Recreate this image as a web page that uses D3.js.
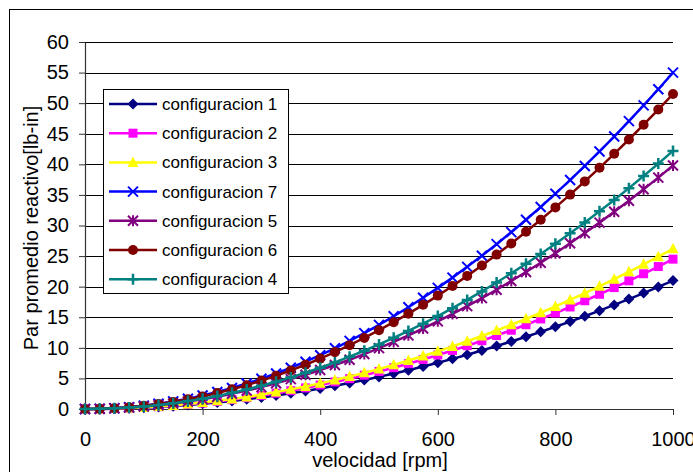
<!DOCTYPE html>
<html>
<head>
<meta charset="utf-8">
<script src="https://cdn.jsdelivr.net/npm/d3@7"></script>
<style>
  body { margin: 0; background: #fff; }
  svg { display: block; font-family: Arial, "Liberation Sans", sans-serif; }
</style>
</head>
<body>
<svg id="chart" width="693" height="472"></svg>
<script>
// speed values, every 25 rpm
const rpm = [0, 25, 50, 75, 100, 125, 150, 175, 200, 225, 250, 275, 300, 325, 350, 375, 400,
  425, 450, 475, 500, 525, 550, 575, 600, 625, 650, 675, 700, 725, 750, 775, 800,
  825, 850, 875, 900, 925, 950, 975, 1000];

// torque per configuration [lb-in]
const config1 = [0, 0.01, 0.05, 0.12, 0.21, 0.33, 0.47, 0.64, 0.84, 1.06, 1.31, 1.59, 1.89, 2.22, 2.57, 2.95, 3.36,
  3.79, 4.25, 4.74, 5.25, 5.79, 6.35, 6.94, 7.56, 8.2, 8.87, 9.57, 10.29, 11.04, 11.81, 12.61, 13.44,
  14.29, 15.17, 16.08, 17.01, 17.97, 18.95, 19.96, 21.0];
const config2 = [0, 0.02, 0.06, 0.14, 0.25, 0.38, 0.55, 0.75, 0.98, 1.24, 1.53, 1.85, 2.21, 2.59, 3.0, 3.45, 3.92,
  4.43, 4.96, 5.53, 6.13, 6.75, 7.41, 8.1, 8.82, 9.57, 10.35, 11.16, 12.01, 12.88, 13.78, 14.72, 15.68,
  16.68, 17.7, 18.76, 19.85, 20.96, 22.11, 23.29, 24.5];
const config3 = [0, 0.02, 0.07, 0.15, 0.26, 0.41, 0.59, 0.8, 1.05, 1.33, 1.64, 1.98, 2.36, 2.77, 3.21, 3.68, 4.19,
  4.73, 5.31, 5.91, 6.55, 7.22, 7.93, 8.66, 9.43, 10.23, 11.07, 11.94, 12.84, 13.77, 14.74, 15.74, 16.77,
  17.83, 18.93, 20.06, 21.22, 22.42, 23.65, 24.91, 26.2];
const config7 = [0, 0.03, 0.14, 0.31, 0.55, 0.86, 1.24, 1.68, 2.2, 2.78, 3.44, 4.16, 4.95, 5.81, 6.74, 7.73, 8.8,
  9.93, 11.14, 12.41, 13.75, 15.16, 16.64, 18.18, 19.8, 21.48, 23.24, 25.06, 26.95, 28.91, 30.94, 33.03, 35.2,
  37.43, 39.74, 42.11, 44.55, 47.06, 49.64, 52.28, 55.0];
const config5 = [0, 0.02, 0.1, 0.22, 0.4, 0.62, 0.9, 1.22, 1.59, 2.01, 2.49, 3.01, 3.58, 4.2, 4.88, 5.6, 6.37,
  7.19, 8.06, 8.98, 9.95, 10.97, 12.04, 13.16, 14.33, 15.55, 16.82, 18.13, 19.5, 20.92, 22.39, 23.9, 25.47,
  27.09, 28.76, 30.47, 32.24, 34.05, 35.92, 37.83, 39.8];
const config6 = [0, 0.03, 0.13, 0.29, 0.52, 0.8, 1.16, 1.58, 2.06, 2.61, 3.22, 3.89, 4.64, 5.44, 6.31, 7.24, 8.24,
  9.3, 10.43, 11.62, 12.88, 14.19, 15.58, 17.03, 18.54, 20.12, 21.76, 23.46, 25.24, 27.07, 28.97, 30.93, 32.96,
  35.05, 37.21, 39.43, 41.72, 44.06, 46.48, 48.96, 51.5];
const config4 = [0, 0.03, 0.11, 0.24, 0.42, 0.66, 0.95, 1.29, 1.69, 2.14, 2.64, 3.19, 3.8, 4.46, 5.17, 5.93, 6.75,
  7.62, 8.55, 9.52, 10.55, 11.63, 12.77, 13.95, 15.19, 16.48, 17.83, 19.23, 20.68, 22.18, 23.74, 25.35, 27.01,
  28.72, 30.49, 32.31, 34.18, 36.11, 38.09, 40.12, 42.2];

const seriesNames = ['configuracion 1', 'configuracion 2', 'configuracion 3', 'configuracion 7',
  'configuracion 5', 'configuracion 6', 'configuracion 4'];
const seriesValues = [config1, config2, config3, config7, config5, config6, config4];
const seriesColors = ['#000080', '#FF00FF', '#FFFF00', '#0000FF', '#800080', '#800000', '#008080'];
const seriesMarkers = ['diamond', 'square', 'triangle', 'x', 'asterisk', 'circle', 'plus'];

const xTicks = [0, 200, 400, 600, 800, 1000];
const yTicks = [0, 5, 10, 15, 20, 25, 30, 35, 40, 45, 50, 55, 60];

const svg = d3.select('#chart');

// outer chart border (runs off the right and bottom edges)
svg.append('rect')
  .attr('x', 9.5).attr('y', 9.5)
  .attr('width', 720).attr('height', 520)
  .attr('fill', 'none').attr('stroke', '#000');

const x = d3.scaleLinear().domain([0, 1000]).range([85, 673]);
const y = d3.scaleLinear().domain([0, 60]).range([409, 42]);

// gridlines
svg.append('g')
  .selectAll('line')
  .data(yTicks.slice(1))
  .enter().append('line')
  .attr('x1', x(0)).attr('x2', x(1000))
  .attr('y1', d => Math.round(y(d)) + 0.5)
  .attr('y2', d => Math.round(y(d)) + 0.5)
  .attr('stroke', '#000').attr('stroke-width', 1);

// axes
const yAxis = svg.append('g')
  .attr('transform', `translate(${x(0)},0)`)
  .call(d3.axisLeft(y).tickValues(yTicks).tickFormat(d3.format('d'))
    .tickSize(6).tickPadding(10).tickSizeOuter(0));
const xAxis = svg.append('g')
  .attr('transform', `translate(0,${y(0)})`)
  .call(d3.axisBottom(x).tickValues(xTicks).tickFormat(d3.format('d'))
    .tickSize(6).tickPadding(17).tickSizeOuter(0));

[xAxis, yAxis].forEach(g => {
  g.select('.domain').attr('stroke', '#333').attr('stroke-width', 1.2);
  g.selectAll('.tick line').attr('stroke', '#333');
  g.selectAll('.tick text')
    .attr('fill', '#000')
    .style('font-size', '20px')
    .style('font-family', 'Arial, "Liberation Sans", sans-serif');
});

// axis titles
svg.append('text')
  .attr('x', 380).attr('y', 467)
  .attr('text-anchor', 'middle')
  .style('font-size', '20px')
  .text('velocidad [rpm]');

svg.append('text')
  .attr('transform', 'rotate(-90)')
  .attr('x', -228).attr('y', 38)
  .attr('text-anchor', 'middle')
  .style('font-size', '20px')
  .text('Par promedio reactivo[lb-in]');

// marker drawing
function drawMarker(g, type, color) {
  if (type === 'diamond') {
    g.append('path').attr('d', 'M0,-5.5L5.5,0L0,5.5L-5.5,0Z').attr('fill', color);
  } else if (type === 'square') {
    g.append('rect').attr('x', -4.5).attr('y', -4.5).attr('width', 9).attr('height', 9).attr('fill', color);
  } else if (type === 'triangle') {
    g.append('path').attr('d', 'M0,-6L5.5,4.5L-5.5,4.5Z').attr('fill', color);
  } else if (type === 'x') {
    g.append('path').attr('d', 'M-5,-5L5,5M-5,5L5,-5').attr('stroke', color).attr('stroke-width', 2).attr('fill', 'none');
  } else if (type === 'asterisk') {
    g.append('path').attr('d', 'M-5,-5L5,5M-5,5L5,-5M0,-5.5L0,5.5').attr('stroke', color).attr('stroke-width', 2).attr('fill', 'none');
  } else if (type === 'circle') {
    g.append('circle').attr('r', 5).attr('fill', color);
  } else if (type === 'plus') {
    g.append('path').attr('d', 'M-5.5,0L5.5,0M0,-5.5L0,5.5').attr('stroke', color).attr('stroke-width', 2.5).attr('fill', 'none');
  }
}

const line = d3.line()
  .x((d, i) => x(rpm[i]))
  .y(d => y(d));

seriesValues.forEach((vals, s) => {
  const g = svg.append('g');
  g.append('path')
    .datum(vals)
    .attr('d', line)
    .attr('fill', 'none')
    .attr('stroke', seriesColors[s])
    .attr('stroke-width', 2.5);
  vals.forEach((v, i) => {
    const m = g.append('g').attr('transform', `translate(${x(rpm[i])},${y(v)})`);
    drawMarker(m, seriesMarkers[s], seriesColors[s]);
  });
});

// legend
const legend = svg.append('g');
legend.append('rect')
  .attr('x', 103.5).attr('y', 89.5)
  .attr('width', 185).attr('height', 204)
  .attr('fill', '#fff').attr('stroke', '#000');

seriesNames.forEach((name, i) => {
  const ly = 104 + i * 29.2;
  legend.append('line')
    .attr('x1', 109).attr('x2', 157)
    .attr('y1', ly).attr('y2', ly)
    .attr('stroke', seriesColors[i]).attr('stroke-width', 2.5);
  const m = legend.append('g').attr('transform', `translate(133,${ly})`);
  drawMarker(m, seriesMarkers[i], seriesColors[i]);
  legend.append('text')
    .attr('x', 162).attr('y', ly)
    .attr('dy', '0.35em')
    .style('font-size', '17px')
    .text(name);
});
</script>
</body>
</html>
